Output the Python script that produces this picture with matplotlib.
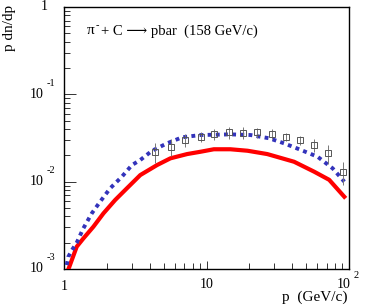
import matplotlib
matplotlib.use('Agg')
import matplotlib.pyplot as plt
from matplotlib.transforms import blended_transform_factory, offset_copy
from matplotlib.ticker import LogLocator, NullFormatter

plt.rcParams['font.family'] = ['Liberation Serif', 'DejaVu Serif', 'DejaVu Sans']

# ---- data ----
blue_p = [1.045, 1.072, 1.138, 1.228, 1.367, 1.567, 1.793, 2.109, 2.548, 2.998, 3.43,
          4.15, 5.29, 6.74, 9.07, 14.76, 20.4, 27.5, 35.0, 45.9, 60.2, 76.8, 92.7]
blue_v = [0.00111, 0.00138, 0.00165, 0.00200, 0.00292, 0.00434, 0.00590, 0.00840, 0.0114,
          0.0155, 0.0177, 0.0226, 0.0275, 0.0322, 0.0342, 0.0348, 0.0342, 0.0314, 0.0275,
          0.0231, 0.0193, 0.0142, 0.0100]

red_p = [1.033, 1.090, 1.228, 1.368, 1.608, 1.892, 2.286, 2.764, 3.43, 4.50, 5.58, 7.31,
         9.07, 11.26, 14.7, 19.4, 26.7, 41.2, 57.0, 72.6, 94.8]
red_v = [0.00085, 0.00106, 0.00180, 0.00224, 0.00305, 0.00434, 0.00617, 0.00840, 0.0119,
         0.0155, 0.0185, 0.0207, 0.0220, 0.0235, 0.0235, 0.0226, 0.0207, 0.0169, 0.0130,
         0.0105, 0.00645]

data_p = [4.37, 5.64, 7.11, 9.18, 11.2, 14.5, 18.1, 22.5, 28.6, 36.0, 45.2, 57.0, 70.8, 90.3]
data_v = [0.0220, 0.0251, 0.0303, 0.0327, 0.0349, 0.0366, 0.0364, 0.0367, 0.0351, 0.0327,
          0.0300, 0.0263, 0.0211, 0.0130]
data_err = [0.0055, 0.0055, 0.0052, 0.0043, 0.0052, 0.0055, 0.0055, 0.0048, 0.0046, 0.0033,
            0.0036, 0.0045, 0.0053, 0.0039]

title_a = 'π'
title_sup = '-'
title_b = '+ C ⟶ pbar  (158 GeV/c)'
xlabel = 'p  (GeV/c)'
ylabel = 'p dn/dp'

W, H = 365, 305
fig = plt.figure(figsize=(W / 100, H / 100), dpi=100)
ax = fig.add_axes([64 / W, 1 - 269 / H, 285 / W, 262 / H])
ax.set_xscale('log')
ax.set_yscale('log')
ax.set_xlim(1, 100)
ax.set_ylim(1e-3, 1)

ax.plot(red_p, red_v, color='#ff0000', lw=3.0, solid_capstyle='butt', zorder=3)
ax.plot(blue_p, blue_v, color='#3333bb', lw=2.8, linestyle=(0, (1, 1.1)), zorder=4)
ax.errorbar(data_p, data_v, yerr=data_err, fmt='s', ms=4.8, mfc='none', mec='#555555',
            mew=0.7, ecolor='#777777', elinewidth=0.7, capsize=0, zorder=5)

for s in ax.spines.values():
    s.set_linewidth(1.0)
    s.set_color('black')

ax.tick_params(which='both', direction='in', top=False, right=False,
               labelleft=False, labelbottom=False, color='#333333', width=0.7)
ax.tick_params(axis='y', which='major', length=8.5)
ax.tick_params(axis='y', which='minor', length=4)
ax.tick_params(axis='x', which='major', length=6)
ax.tick_params(axis='x', which='minor', length=4)
ax.xaxis.set_minor_locator(LogLocator(base=10, subs=range(2, 10)))
ax.yaxis.set_minor_locator(LogLocator(base=10, subs=range(2, 10)))
ax.xaxis.set_minor_formatter(NullFormatter())
ax.yaxis.set_minor_formatter(NullFormatter())

fs = 10
sfs = 7.5
# y tick labels
ty = blended_transform_factory(fig.transFigure, ax.transData)
for val, exp in [(1e-3, '-3'), (1e-2, '-2'), (1e-1, '-1')]:
    fig.text(43.5 / W, val, '10', transform=ty, ha='right', va='center', fontsize=fs)
    fig.text(47 / W, val, exp, transform=offset_copy(ty, fig=fig, x=0, y=8, units='points'),
             ha='left', va='center', fontsize=sfs)
fig.text(47.5 / W, 1.0, '1', transform=ty, ha='right', va='center', fontsize=fs)

# x tick labels
tx = blended_transform_factory(ax.transData, fig.transFigure)
fig.text(1, 1 - 286 / H, '1', transform=tx, ha='center', va='center', fontsize=fs)
fig.text(10, 1 - 285 / H, '10', transform=tx, ha='center', va='center', fontsize=fs)
fig.text(100, 1 - 284 / H, '10', transform=offset_copy(tx, fig=fig, x=1.5, y=0, units='points'),
         ha='right', va='center', fontsize=fs)
fig.text(100, 1 - 276 / H, '2', transform=offset_copy(tx, fig=fig, x=3, y=0, units='points'),
         ha='left', va='center', fontsize=sfs)

fig.text(348 / W, 1 - 297.5 / H, xlabel, ha='right', va='center', fontsize=11)
fig.text(10 / W, 1 - 5 / H, ylabel, rotation=90, ha='center', va='top', fontsize=11)

# title built from pieces
t1 = fig.text(87 / W, 1 - 31 / H, title_a, ha='left', va='center', fontsize=11)
fig.canvas.draw()
ax.annotate(title_sup, xy=(1, 1), xycoords=t1, xytext=(0.6, 2.5), textcoords='offset points',
            ha='left', va='top', fontsize=7.5, annotation_clip=False)
ax.annotate(title_b, xy=(1, 0.5), xycoords=t1, xytext=(4.5, 0), textcoords='offset points',
            ha='left', va='center', fontsize=10.5, annotation_clip=False)

fig.savefig('out.png', dpi=100)
